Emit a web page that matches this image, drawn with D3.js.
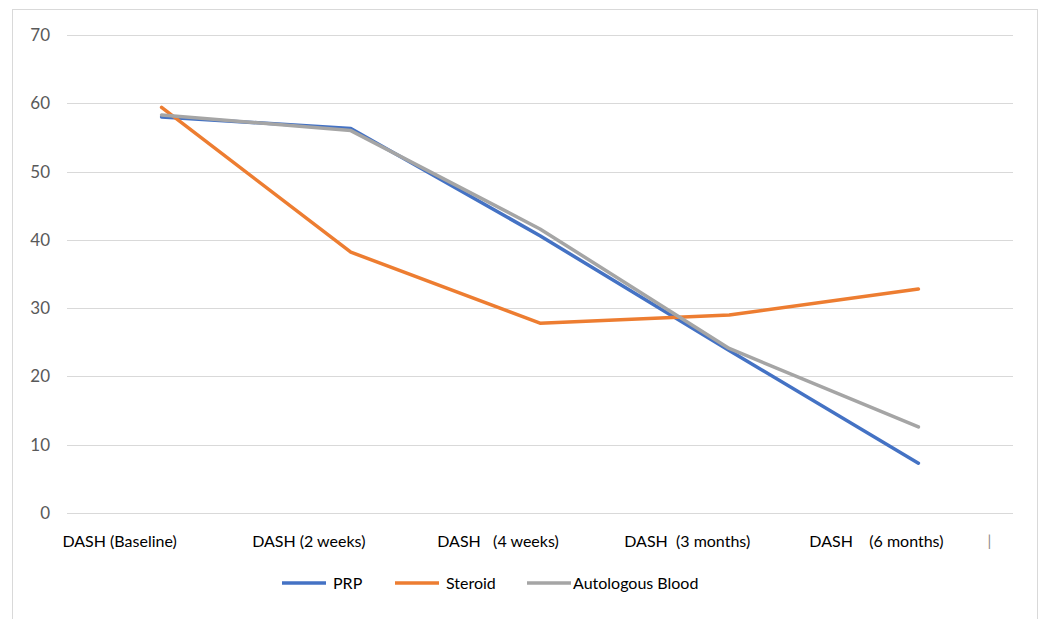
<!DOCTYPE html>
<html>
<head>
<meta charset="utf-8">
<script src="https://cdn.jsdelivr.net/npm/d3@7"></script>
<style>
  body { margin: 0; background: #fff; }
  svg { display: block; font-family: Lato, "Open Sans", sans-serif; }
</style>
</head>
<body>
<div class="chart"></div>
<script>
// data
var categories = ["DASH (Baseline)", "DASH (2 weeks)", "DASH   (4 weeks)", "DASH  (3 months)", "DASH    (6 months)"];
var prp = [58.0, 56.3, 40.6, 23.8, 7.3];
var steroid = [59.4, 38.2, 27.8, 29.0, 32.8];
var autologous = [58.3, 56.0, 41.6, 24.1, 12.6];
var seriesNames = ["PRP", "Steroid", "Autologous Blood"];
var seriesColors = ["#4472C4", "#ED7D31", "#A5A5A5"];
var yTicks = [0, 10, 20, 30, 40, 50, 60, 70];

var width = 1043, height = 619;

var svg = d3.select(".chart")
  .append("svg")
  .attr("width", width)
  .attr("height", height);

// chart frame
svg.append("rect")
  .attr("x", 12.5).attr("y", 9.5)
  .attr("width", 1025).attr("height", 640)
  .attr("fill", "none")
  .attr("stroke", "#d9d9d9");

var x = d3.scaleBand()
  .domain(categories)
  .range([67, 1013]);

var y = d3.scaleLinear()
  .domain([0, 70])
  .range([513, 35]);

// gridlines
svg.append("g")
  .selectAll("line")
  .data(yTicks)
  .enter()
  .append("line")
  .attr("x1", 67).attr("x2", 1013)
  .attr("y1", function (d) { return Math.round(y(d)) + 0.5; })
  .attr("y2", function (d) { return Math.round(y(d)) + 0.5; })
  .style("stroke", "#d9d9d9");

// y labels
svg.append("g")
  .selectAll("text")
  .data(yTicks)
  .enter()
  .append("text")
  .attr("x", 50)
  .attr("y", function (d) { return y(d); })
  .attr("dy", "0.35em")
  .attr("text-anchor", "end")
  .style("font-size", "17px")
  .style("fill", "#595959")
  .text(function (d) { return d; });

// x labels (sit a bit left of the points, like the original)
svg.append("g")
  .selectAll("text")
  .data(categories)
  .enter()
  .append("text")
  .attr("x", function (d) { return x(d) + x.bandwidth() / 2 - 42; })
  .attr("y", 541)
  .attr("dy", "0.35em")
  .attr("text-anchor", "middle")
  .style("font-size", "16px")
  .style("fill", "#000")
  .style("white-space", "pre")
  .attr("xml:space", "preserve")
  .text(function (d) { return d; });

svg.append("text")
  .attr("x", x(categories[4]) + x.bandwidth() / 2 + 71)
  .attr("y", 541)
  .attr("dy", "0.35em")
  .attr("text-anchor", "middle")
  .style("font-size", "15px")
  .style("fill", "#888")
  .text("|");

var line = d3.line()
  .x(function (d, i) { return x(categories[i]) + x.bandwidth() / 2; })
  .y(function (d) { return y(d); });

var allSeries = [prp, steroid, autologous];

svg.append("g")
  .selectAll("path")
  .data(allSeries)
  .enter()
  .append("path")
  .attr("d", line)
  .attr("fill", "none")
  .attr("stroke", function (d, i) { return seriesColors[i]; })
  .attr("stroke-width", 3.5)
  .attr("stroke-linejoin", "round")
  .attr("stroke-linecap", "round");

// legend
var legendStarts = [282, 395, 527];
var legendTextX = [333, 446, 573];
var legend = svg.append("g")
  .selectAll("g")
  .data(seriesNames)
  .enter()
  .append("g");

legend.append("line")
  .attr("x1", function (d, i) { return legendStarts[i]; })
  .attr("x2", function (d, i) { return legendStarts[i] + 44; })
  .attr("y1", 583).attr("y2", 583)
  .attr("stroke", function (d, i) { return seriesColors[i]; })
  .attr("stroke-width", 3.5);

legend.append("text")
  .attr("x", function (d, i) { return legendTextX[i]; })
  .attr("y", 583)
  .attr("dy", "0.35em")
  .style("font-size", "16px")
  .style("fill", "#000")
  .text(function (d) { return d; });
</script>
</body>
</html>
